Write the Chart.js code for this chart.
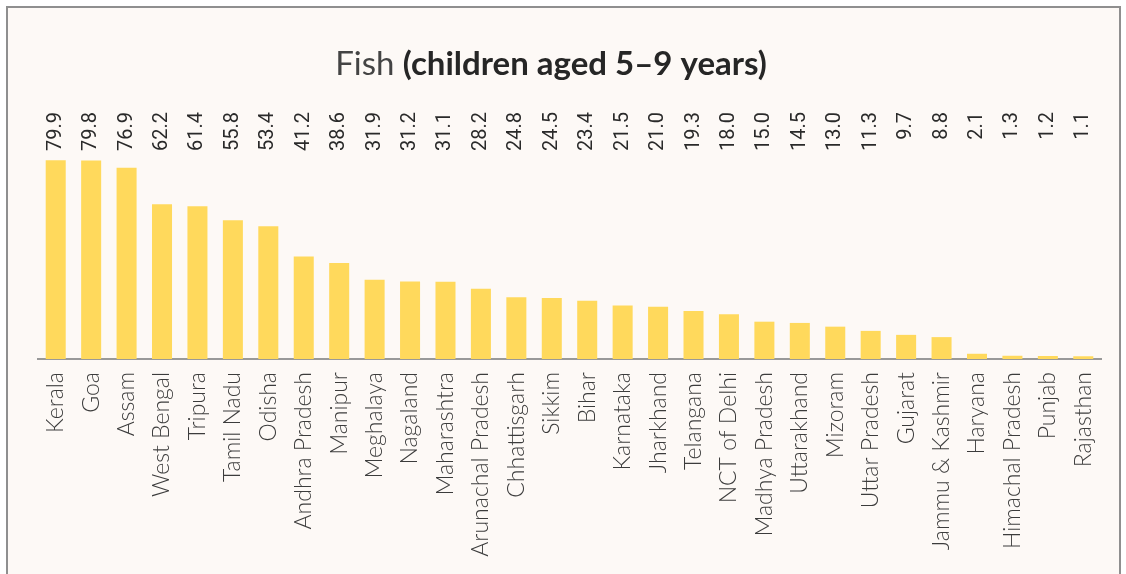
<!DOCTYPE html>
<html>
<head>
<meta charset="utf-8">
<script src="https://cdn.jsdelivr.net/npm/chart.js@4/dist/chart.umd.min.js"></script>
<style>
  html, body { margin: 0; padding: 0; background: #ffffff; }
  #frame {
    position: absolute; left: 6px; top: 6px; width: 1111px; height: 580px;
    border-left: 2px solid #8f8f8f; border-top: 2px solid #8f8f8f; border-right: 2px solid #8f8f8f;
    background: #fdf9f6;
  }
  #wrap { position: absolute; left: 0; top: 0; width: 1126px; height: 574px; }
</style>
</head>
<body>
<div id="frame"></div>
<div id="wrap"><canvas id="fishChart" width="1126" height="574"></canvas></div>
<script>
// États (triés par valeur décroissante)
const states = [
  'Kerala', 'Goa', 'Assam', 'West Bengal', 'Tripura', 'Tamil Nadu', 'Odisha',
  'Andhra Pradesh', 'Manipur', 'Meghalaya', 'Nagaland', 'Maharashtra',
  'Arunachal Pradesh', 'Chhattisgarh', 'Sikkim', 'Bihar', 'Karnataka', 'Jharkhand',
  'Telangana', 'NCT of Delhi', 'Madhya Pradesh', 'Uttarakhand', 'Mizoram',
  'Uttar Pradesh', 'Gujarat', 'Jammu & Kashmir', 'Haryana', 'Himachal Pradesh',
  'Punjab', 'Rajasthan'
];

// Pourcentage d'enfants (5-9 ans) consommant du poisson
const fishValues = [
  79.9, 79.8, 76.9, 62.2, 61.4, 55.8, 53.4, 41.2, 38.6, 31.9, 31.2, 31.1,
  28.2, 24.8, 24.5, 23.4, 21.5, 21.0, 19.3, 18.0, 15.0, 14.5, 13.0, 11.3,
  9.7, 8.8, 2.1, 1.3, 1.2, 1.1
];

const titleMain = 'Fish';
const titleSub = '(children aged 5–9 years)';

// Titre avec deux graisses différentes
const titlePlugin = {
  id: 'mixedTitle',
  afterDraw(chart) {
    const ctx = chart.ctx;
    ctx.save();
    ctx.textBaseline = 'alphabetic';
    const fontA = '400 33px Lato, "Open Sans", sans-serif';
    const fontB = '700 33px Lato, "Open Sans", sans-serif';
    ctx.font = fontA;
    const wA = ctx.measureText(titleMain + ' ').width;
    ctx.font = fontB;
    const wB = ctx.measureText(titleSub).width;
    let x = 551 - (wA + wB) / 2;
    const y = 75;
    ctx.textAlign = 'left';
    ctx.font = fontA;
    ctx.fillStyle = '#444444';
    ctx.fillText(titleMain + ' ', x, y);
    ctx.font = fontB;
    ctx.fillStyle = '#262626';
    ctx.fillText(titleSub, x + wA, y);
    ctx.restore();
  }
};

// Valeurs verticales au-dessus des barres
const valueLabels = {
  id: 'valueLabels',
  afterDatasetsDraw(chart) {
    const ctx = chart.ctx;
    const meta = chart.getDatasetMeta(0);
    const top = chart.chartArea.top - 48;
    ctx.save();
    ctx.font = '20px Roboto, "Liberation Sans", sans-serif';
    ctx.fillStyle = '#2a2a2a';
    ctx.textAlign = 'right';
    ctx.textBaseline = 'middle';
    meta.data.forEach(function(bar, i) {
      ctx.save();
      ctx.translate(bar.x, top);
      ctx.rotate(-Math.PI / 2);
      ctx.fillText(fishValues[i].toFixed(1), 0, 0);
      ctx.restore();
    });
    ctx.restore();
  }
};

const ctx = document.getElementById('fishChart').getContext('2d');
const fishChart = new Chart(ctx, {
  type: 'bar',
  data: {
    labels: states,
    datasets: [{
      data: fishValues,
      backgroundColor: '#ffd95c',
      borderWidth: 0,
      barPercentage: 0.565,
      categoryPercentage: 1.0
    }]
  },
  options: {
    responsive: false,
    animation: false,
    layout: { padding: { left: 38, right: 25, top: 160, bottom: 0 } },
    plugins: {
      legend: { display: false },
      tooltip: { enabled: false },
      title: { display: false }
    },
    scales: {
      x: {
        grid: { display: false, drawTicks: false },
        border: { display: true, color: '#999999', width: 2 },
        ticks: {
          minRotation: 90,
          maxRotation: 90,
          padding: 13,
          color: '#3c3c3c',
          font: { family: 'Lato, "Open Sans", sans-serif', size: 23, weight: '300' }
        },
        afterFit(scale) { scale.height = 215; }
      },
      y: {
        display: false,
        min: 0,
        max: 80
      }
    }
  },
  plugins: [titlePlugin, valueLabels]
});
</script>
</body>
</html>
